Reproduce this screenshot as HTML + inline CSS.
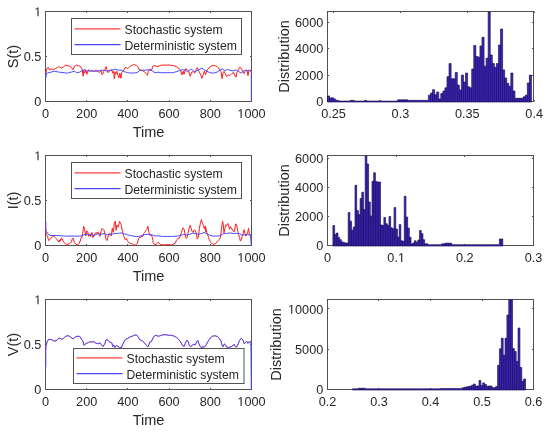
<!DOCTYPE html><html><head><meta charset="utf-8"><style>html,body{margin:0;padding:0;background:#fff;overflow:hidden}svg{display:block;will-change:transform}</style></head><body><svg width="550" height="434" viewBox="0 0 550 434" font-family='"Liberation Sans", sans-serif' fill="#262626"><rect width="550" height="434" fill="#fff"/><rect x="45.5" y="11.5" width="206.0" height="90.0" fill="none" stroke="#525252" stroke-width="1"/><path d="M45.5 101.5v-1.5M45.5 11.5v1.5M86.5 101.5v-1.5M86.5 11.5v1.5M127.5 101.5v-1.5M127.5 11.5v1.5M169.5 101.5v-1.5M169.5 11.5v1.5M210.5 101.5v-1.5M210.5 11.5v1.5M251.5 101.5v-1.5M251.5 11.5v1.5M45.5 101.5h1.5M251.5 101.5h-1.5M45.5 56.5h1.5M251.5 56.5h-1.5M45.5 11.5h1.5M251.5 11.5h-1.5" stroke="#525252" stroke-width="1" fill="none"/><text x="45.5" y="118.1" text-anchor="middle" font-size="12.7">0</text><text x="86.7" y="118.1" text-anchor="middle" font-size="12.7">200</text><text x="127.9" y="118.1" text-anchor="middle" font-size="12.7">400</text><text x="169.1" y="118.1" text-anchor="middle" font-size="12.7">600</text><text x="210.3" y="118.1" text-anchor="middle" font-size="12.7">800</text><text x="237.37" y="118.1" font-size="12.7"> 000</text><path d="M240.57 118.10 240.57 110.43 238.60 111.84 238.60 110.78 240.66 109.36 241.69 109.36 241.69 118.10Z"/><text x="41.3" y="106.2" text-anchor="end" font-size="12.7">0</text><text x="41.3" y="61.2" text-anchor="end" font-size="12.7">0.5</text><text x="34.24" y="16.2" font-size="12.7"> </text><path d="M37.43 16.20 37.43 8.53 35.46 9.94 35.46 8.88 37.52 7.46 38.55 7.46 38.55 16.20Z"/><path d="M45.7 73.2 47.1 68.1 48.6 67.6 49.6 70.2 51.1 68.7 53.2 69.7 55.2 68.7 57.2 67.6 59.3 66.6 61.3 68.1 63.3 67.1 65.4 65.1 67.4 65.6 69.5 66.1 71.5 67.6 73.0 69.7 74.5 66.1 76.6 65.1 78.6 65.6 80.7 66.6 82.2 69.2 83.2 76.3 83.7 70.2 84.7 73.2 85.8 69.7 86.8 74.3 87.8 71.2 88.8 69.7 90.8 71.2 92.4 70.2 93.9 71.7 95.9 70.2 98.0 71.7 99.5 72.2 101.1 70.7 102.1 74.8 103.1 73.2 104.1 70.7 105.1 69.2 106.1 66.6 107.2 70.2 108.2 72.7 109.2 71.2 110.7 70.2 111.7 69.7 112.8 73.2 113.8 71.2 114.3 78.8 115.1 72.2 115.8 74.3 116.8 71.2 117.9 75.3 118.9 77.8 119.9 73.2 120.9 78.3 121.9 72.2 123.0 70.7 124.0 70.2 125.0 68.1 126.0 67.1 127.5 68.7 128.5 67.6 130.6 66.1 132.6 65.1 134.7 64.6 136.7 65.6 138.2 67.1 139.2 69.7 140.8 70.2 142.8 70.7 144.8 72.2 146.4 73.7 147.4 75.3 148.4 71.2 149.9 69.2 151.5 70.2 153.0 66.1 155.1 65.6 157.1 66.6 159.1 66.1 161.2 65.1 165.2 65.1 170.3 65.1 173.4 65.6 176.4 66.6 178.5 68.1 180.5 70.2 182.0 74.8 183.1 71.2 184.1 74.3 185.6 68.7 187.1 69.7 188.7 71.2 190.2 76.3 191.7 72.2 193.2 71.7 194.8 73.2 196.3 69.2 197.3 67.6 198.3 70.2 199.4 72.2 200.9 75.3 201.9 78.3 202.9 75.3 204.4 71.2 205.5 74.8 207.0 70.2 208.1 69.3 210.1 66.7 212.2 65.7 215.3 65.7 217.4 66.7 219.5 69.3 221.0 71.4 222.1 78.7 223.1 72.4 224.2 71.4 225.2 73.5 226.7 76.6 228.3 75.0 229.9 75.6 231.9 73.5 233.5 72.4 235.0 76.1 236.1 77.1 237.1 71.9 238.2 70.4 239.7 67.3 241.3 68.3 242.8 71.4 243.9 73.5 244.9 71.4 245.9 69.9 247.0 70.4 248.0 75.6 249.0 70.4 250.1 69.9 250.8 71.4" fill="none" stroke="#ff1a1a" stroke-width="1.0" stroke-linejoin="round"/><path d="M45.7 78.5 46.5 73.2 49.0 72.7 54.2 71.2 59.3 72.2 64.4 72.7 67.4 73.2 71.5 72.0 74.5 71.2 76.6 72.7 79.6 72.2 82.7 70.2 84.7 69.7 86.8 71.2 89.8 71.0 94.9 71.2 100.0 70.7 101.1 70.2 104.1 70.2 107.2 71.2 110.2 70.2 113.3 69.7 115.3 69.2 118.4 70.2 121.4 70.2 124.5 71.7 127.5 72.7 130.6 73.0 134.7 73.0 137.7 72.2 139.8 70.2 142.8 70.2 145.9 70.2 148.9 69.7 152.0 70.7 154.0 72.2 155.1 72.7 158.1 72.2 161.2 72.7 167.3 72.7 172.4 72.7 176.4 71.7 179.5 70.7 182.5 69.7 185.6 70.2 187.6 71.7 190.7 69.2 192.7 70.2 194.8 71.7 196.8 70.7 198.8 69.7 201.9 68.1 203.9 69.7 206.0 70.7 208.1 71.9 211.2 73.0 214.3 73.0 217.4 71.9 220.5 69.9 222.6 68.8 224.7 70.9 227.3 69.3 229.9 70.4 233.0 70.9 236.1 69.9 238.2 71.4 241.3 73.0 244.4 70.4 247.5 70.9 249.6 70.4 250.6 71.4 251.3 72.0 251.3 101.3" fill="none" stroke="#4a4aff" stroke-width="1.0" stroke-linejoin="round"/><text x="148.5" y="136.5" text-anchor="middle" font-size="14.5">Time</text><text transform="translate(17.5,56.5) rotate(-90)" text-anchor="middle" font-size="14.5">S(t)</text><rect x="45.5" y="155.5" width="206.0" height="90.0" fill="none" stroke="#525252" stroke-width="1"/><path d="M45.5 245.5v-1.5M45.5 155.5v1.5M86.5 245.5v-1.5M86.5 155.5v1.5M127.5 245.5v-1.5M127.5 155.5v1.5M169.5 245.5v-1.5M169.5 155.5v1.5M210.5 245.5v-1.5M210.5 155.5v1.5M251.5 245.5v-1.5M251.5 155.5v1.5M45.5 245.5h1.5M251.5 245.5h-1.5M45.5 200.5h1.5M251.5 200.5h-1.5M45.5 155.5h1.5M251.5 155.5h-1.5" stroke="#525252" stroke-width="1" fill="none"/><text x="45.5" y="262.1" text-anchor="middle" font-size="12.7">0</text><text x="86.7" y="262.1" text-anchor="middle" font-size="12.7">200</text><text x="127.9" y="262.1" text-anchor="middle" font-size="12.7">400</text><text x="169.1" y="262.1" text-anchor="middle" font-size="12.7">600</text><text x="210.3" y="262.1" text-anchor="middle" font-size="12.7">800</text><text x="237.37" y="262.1" font-size="12.7"> 000</text><path d="M240.57 262.10 240.57 254.43 238.60 255.84 238.60 254.78 240.66 253.36 241.69 253.36 241.69 262.10Z"/><text x="41.3" y="250.2" text-anchor="end" font-size="12.7">0</text><text x="41.3" y="205.2" text-anchor="end" font-size="12.7">0.5</text><text x="34.24" y="160.2" font-size="12.7"> </text><path d="M37.43 160.20 37.43 152.53 35.46 153.94 35.46 152.88 37.52 151.46 38.55 151.46 38.55 160.20Z"/><path d="M45.7 222.1 45.7 231.0 46.4 234.6 47.5 236.1 48.6 240.5 49.7 239.8 50.8 238.3 52.3 236.9 53.8 236.1 55.3 237.6 56.7 239.1 57.9 240.9 59.3 242.0 60.8 239.8 61.9 238.3 58.3 241.5 59.3 241.0 60.3 240.0 61.3 238.5 62.3 239.0 63.3 241.5 64.4 243.1 65.9 244.1 67.9 244.4 69.5 243.6 71.0 242.5 72.0 239.5 72.8 238.0 73.7 240.0 74.5 242.5 76.1 244.4 77.6 244.6 79.1 243.6 80.2 241.0 81.2 238.0 82.2 236.9 82.7 233.4 83.2 229.8 83.7 226.3 84.7 229.8 85.8 235.9 86.8 230.8 87.8 232.4 88.8 236.4 89.8 233.9 90.8 236.4 91.9 232.4 92.9 237.5 93.9 235.9 94.9 233.9 95.9 232.4 97.0 233.4 98.0 231.9 98.0 232.9 99.0 233.4 100.0 236.4 101.1 231.3 102.1 228.3 103.1 229.3 104.1 230.3 105.1 234.4 106.1 239.5 107.2 240.5 108.2 235.9 109.2 233.4 110.2 233.9 111.2 235.9 112.3 228.3 113.3 232.4 114.3 223.2 115.3 221.2 116.1 230.3 116.8 225.2 117.9 227.3 118.9 224.2 119.6 221.2 120.4 223.2 121.4 225.2 122.4 231.3 123.5 235.4 124.5 238.0 125.5 240.0 126.5 238.5 127.5 240.5 128.5 242.5 129.6 243.1 131.6 243.6 133.6 244.8 135.7 245.1 137.2 243.6 138.7 238.5 139.8 236.9 140.8 237.5 141.8 235.9 142.8 236.4 143.8 233.4 144.8 232.4 145.9 230.3 146.9 229.3 147.9 226.3 148.9 232.4 149.9 235.4 151.0 234.9 152.0 236.4 153.0 240.5 153.0 242.5 154.0 244.1 156.1 244.6 158.1 242.3 159.1 243.1 160.1 244.4 162.2 244.8 165.2 244.8 168.3 244.6 171.3 245.1 173.4 244.1 175.4 243.1 176.4 240.0 178.0 238.5 179.5 238.0 180.5 235.4 181.5 232.4 182.5 228.8 183.1 227.8 184.1 229.3 185.1 234.4 186.1 238.5 187.1 237.5 188.2 232.4 189.2 228.3 190.2 225.2 191.2 228.3 192.2 231.9 193.2 232.4 194.3 229.8 195.3 230.8 196.3 233.4 197.3 239.0 198.3 237.5 199.4 228.3 200.4 223.2 201.4 219.6 202.4 223.2 203.4 225.2 204.4 228.8 205.5 226.3 206.5 232.4 204.9 226.5 205.8 231.5 206.7 232.5 207.6 234.3 208.5 237.5 209.5 240.2 210.8 242.5 212.2 243.8 214.0 244.3 215.8 243.4 217.6 241.1 219.5 239.3 220.4 237.5 221.3 230.2 222.2 223.8 222.6 221.1 223.3 224.7 224.0 232.9 224.9 228.4 225.8 224.7 226.7 225.6 227.8 223.4 228.5 225.2 229.5 229.3 230.4 226.5 231.3 227.9 232.6 230.2 234.0 232.0 234.9 228.4 235.8 223.8 236.7 225.6 237.6 230.2 238.5 234.3 239.5 237.5 240.4 241.1 241.3 239.3 242.2 236.5 243.1 233.8 244.0 229.7 244.9 232.9 245.8 236.1 246.7 234.7 247.6 232.9 248.5 228.4 249.5 234.7 250.4 236.1" fill="none" stroke="#ff1a1a" stroke-width="1.0" stroke-linejoin="round"/><path d="M45.7 221.4 45.7 228.7 46.4 231.7 47.9 233.9 50.1 235.4 53.1 235.5 56.7 235.4 64.4 236.1 74.5 236.1 79.6 236.1 81.7 235.9 83.7 234.9 85.8 234.2 88.8 234.4 91.9 234.9 93.9 235.6 95.9 234.6 98.0 233.9 101.1 234.2 104.1 233.6 107.2 234.9 110.2 234.4 113.3 233.9 116.3 233.4 119.4 233.2 121.4 232.9 124.5 233.9 127.5 234.9 130.6 235.6 133.6 236.1 136.7 236.6 138.7 236.4 141.8 235.6 144.8 234.6 147.9 234.2 151.0 234.6 155.1 235.9 158.1 235.9 162.2 236.4 167.3 236.4 172.4 236.4 177.5 236.2 180.5 235.2 183.6 234.4 186.6 234.9 189.7 234.4 192.7 233.2 195.8 233.6 198.8 234.2 201.9 233.4 203.9 232.4 206.0 233.4 206.7 233.8 209.5 235.2 213.1 236.1 217.6 236.1 220.4 235.5 223.1 233.8 226.7 233.4 229.5 232.9 233.1 233.4 236.7 233.4 239.5 233.8 242.2 235.2 244.9 234.7 247.6 234.7 250.4 234.5 251.3 245.3" fill="none" stroke="#4a4aff" stroke-width="1.0" stroke-linejoin="round"/><text x="148.5" y="280.5" text-anchor="middle" font-size="14.5">Time</text><text transform="translate(17.5,200.5) rotate(-90)" text-anchor="middle" font-size="14.5">I(t)</text><rect x="45.5" y="299.5" width="206.0" height="90.0" fill="none" stroke="#525252" stroke-width="1"/><path d="M45.5 389.5v-1.5M45.5 299.5v1.5M86.5 389.5v-1.5M86.5 299.5v1.5M127.5 389.5v-1.5M127.5 299.5v1.5M169.5 389.5v-1.5M169.5 299.5v1.5M210.5 389.5v-1.5M210.5 299.5v1.5M251.5 389.5v-1.5M251.5 299.5v1.5M45.5 389.5h1.5M251.5 389.5h-1.5M45.5 344.5h1.5M251.5 344.5h-1.5M45.5 299.5h1.5M251.5 299.5h-1.5" stroke="#525252" stroke-width="1" fill="none"/><text x="45.5" y="406.1" text-anchor="middle" font-size="12.7">0</text><text x="86.7" y="406.1" text-anchor="middle" font-size="12.7">200</text><text x="127.9" y="406.1" text-anchor="middle" font-size="12.7">400</text><text x="169.1" y="406.1" text-anchor="middle" font-size="12.7">600</text><text x="210.3" y="406.1" text-anchor="middle" font-size="12.7">800</text><text x="237.37" y="406.1" font-size="12.7"> 000</text><path d="M240.57 406.10 240.57 398.43 238.60 399.84 238.60 398.78 240.66 397.36 241.69 397.36 241.69 406.10Z"/><text x="41.3" y="394.2" text-anchor="end" font-size="12.7">0</text><text x="41.3" y="349.2" text-anchor="end" font-size="12.7">0.5</text><text x="34.24" y="304.2" font-size="12.7"> </text><path d="M37.43 304.20 37.43 296.53 35.46 297.94 35.46 296.88 37.52 295.46 38.55 295.46 38.55 304.20Z"/><path d="M45.7 367.2 45.7 351.6 45.9 345.9 47.3 341.6 48.7 339.4 51.3 339.6 53.4 340.8 55.0 341.2 57.0 340.1 59.1 338.1 61.2 339.1 62.7 339.1 64.3 337.6 66.4 336.1 68.5 335.9 70.5 337.1 73.1 339.1 75.2 337.1 77.3 336.4 79.9 336.6 81.4 339.1 83.0 341.2 84.0 345.4 85.0 344.4 86.6 343.4 88.2 342.8 90.2 341.8 91.8 342.2 93.9 341.8 95.9 343.4 98.0 343.9 98.0 343.9 100.1 342.9 101.6 345.1 103.1 346.6 104.7 343.9 106.2 339.9 107.2 339.4 108.7 341.4 110.3 342.4 111.8 342.9 112.8 346.6 113.8 345.1 114.8 347.6 116.4 345.6 117.9 346.6 119.4 347.6 121.5 347.6 122.5 345.1 124.0 341.9 125.5 339.4 127.1 338.9 128.6 337.9 130.6 336.9 132.7 336.1 134.7 335.1 136.7 335.4 138.3 336.9 139.3 339.4 140.8 340.2 142.8 341.4 144.9 343.4 146.9 346.1 147.9 347.1 149.0 344.4 150.0 341.9 151.5 341.4 153.1 337.9 154.6 335.9 156.1 335.4 157.6 336.1 159.7 336.1 161.2 335.4 163.2 334.9 166.3 334.9 168.3 335.4 171.4 335.4 174.4 336.4 176.5 337.4 178.5 339.4 180.5 341.9 182.6 345.6 184.1 346.6 185.1 343.9 186.7 340.4 188.2 341.4 189.2 345.1 190.7 347.1 192.3 345.1 193.8 344.4 195.3 345.1 196.8 341.4 197.9 340.4 198.9 343.9 200.4 347.1 201.9 348.1 202.0 347.1 204.6 347.1 206.1 345.1 208.1 341.4 210.2 338.4 212.2 336.4 214.8 335.9 217.3 336.6 219.3 338.4 220.9 340.9 221.9 345.1 222.9 347.1 224.4 343.9 225.5 345.1 226.5 347.1 228.5 347.6 230.5 347.1 232.6 346.1 234.1 344.4 235.1 346.6 236.7 347.1 238.2 343.9 239.7 340.4 241.2 338.4 242.8 339.9 244.3 343.9 245.8 341.9 246.8 341.4 247.9 343.4 248.9 341.9 249.9 342.4 250.9 341.4" fill="none" stroke="#ff1a1a" stroke-width="0.6" stroke-linejoin="round"/><path d="M45.7 367.1 45.7 351.4 45.9 345.7 47.3 341.4 48.7 339.3 51.3 339.5 53.4 340.6 55.0 341.1 57.0 340.0 59.1 338.0 61.2 339.0 62.7 339.0 64.3 337.4 66.4 335.9 68.5 335.7 70.5 336.9 73.1 339.0 75.2 336.9 77.3 336.2 79.9 336.4 81.4 339.0 83.0 341.1 84.0 345.2 85.0 344.2 86.6 343.2 88.2 342.6 90.2 341.6 91.8 342.1 93.9 341.6 95.9 343.2 98.0 343.7 98.0 343.8 100.1 342.8 101.6 344.9 103.1 346.4 104.7 343.8 106.2 339.8 107.2 339.3 108.7 341.3 110.3 342.3 111.8 342.8 112.8 346.4 113.8 344.9 114.8 347.4 116.4 345.4 117.9 346.4 119.4 347.4 121.5 347.4 122.5 344.9 124.0 341.8 125.5 339.3 127.1 338.7 128.6 337.7 130.6 336.7 132.7 336.0 134.7 335.0 136.7 335.2 138.3 336.7 139.3 339.3 140.8 340.1 142.8 341.3 144.9 343.3 146.9 345.9 147.9 346.9 149.0 344.3 150.0 341.8 151.5 341.3 153.1 337.7 154.6 335.7 156.1 335.2 157.6 336.0 159.7 336.0 161.2 335.2 163.2 334.7 166.3 334.7 168.3 335.2 171.4 335.2 174.4 336.2 176.5 337.2 178.5 339.3 180.5 341.8 182.6 345.4 184.1 346.4 185.1 343.8 186.7 340.3 188.2 341.3 189.2 344.9 190.7 346.9 192.3 344.9 193.8 344.3 195.3 344.9 196.8 341.3 197.9 340.3 198.9 343.8 200.4 346.9 201.9 347.9 202.0 346.9 204.6 346.9 206.1 344.9 208.1 341.3 210.2 338.2 212.2 336.2 214.8 335.7 217.3 336.4 219.3 338.2 220.9 340.8 221.9 344.9 222.9 346.9 224.4 343.8 225.5 344.9 226.5 346.9 228.5 347.4 230.5 346.9 232.6 345.9 234.1 344.3 235.1 346.4 236.7 346.9 238.2 343.8 239.7 340.3 241.2 338.2 242.8 339.8 244.3 343.8 245.8 341.8 246.8 341.3 247.9 343.3 248.9 341.8 249.9 342.3 250.9 341.3 251.3 389.3" fill="none" stroke="#4a4aff" stroke-width="1.0" stroke-linejoin="round"/><text x="148.5" y="424.5" text-anchor="middle" font-size="14.5">Time</text><text transform="translate(17.5,344.5) rotate(-90)" text-anchor="middle" font-size="14.5">V(t)</text><rect x="327.5" y="11.5" width="206.0" height="90.0" fill="none" stroke="#525252" stroke-width="1"/><path d="M333.5 101.5v-1.5M333.5 11.5v1.5M400.5 101.5v-1.5M400.5 11.5v1.5M467.5 101.5v-1.5M467.5 11.5v1.5M534.5 101.5v-1.5M534.5 11.5v1.5M327.5 101.5h1.5M533.5 101.5h-1.5M327.5 75.5h1.5M533.5 75.5h-1.5M327.5 48.5h1.5M533.5 48.5h-1.5M327.5 22.5h1.5M533.5 22.5h-1.5" stroke="#525252" stroke-width="1" fill="none"/><text x="333.52" y="118.1" text-anchor="middle" font-size="12.7">0.25</text><text x="400.4" y="118.1" text-anchor="middle" font-size="12.7">0.3</text><text x="467.29" y="118.1" text-anchor="middle" font-size="12.7">0.35</text><text x="534.17" y="118.1" text-anchor="middle" font-size="12.7">0.4</text><text x="323.3" y="106.2" text-anchor="end" font-size="12.7">0</text><text x="323.3" y="79.73" text-anchor="end" font-size="12.7">2000</text><text x="323.3" y="53.26" text-anchor="end" font-size="12.7">4000</text><text x="323.3" y="26.79" text-anchor="end" font-size="12.7">6000</text><path d="M327.50 102.00 327.50 96.00 329.56 96.00 329.56 98.00 331.62 98.00 331.62 97.80 333.68 97.80 333.68 99.00 335.74 99.00 335.74 100.35 337.80 100.35 337.80 100.85 339.86 100.85 339.86 101.05 341.92 101.05 341.92 101.05 343.98 101.05 343.98 101.05 346.04 101.05 346.04 101.05 348.10 101.05 348.10 101.05 350.16 101.05 350.16 100.35 352.22 100.35 352.22 100.35 354.28 100.35 354.28 101.05 356.34 101.05 356.34 101.05 358.40 101.05 358.40 101.05 360.46 101.05 360.46 101.05 362.52 101.05 362.52 101.05 364.58 101.05 364.58 100.35 366.64 100.35 366.64 101.05 368.70 101.05 368.70 101.05 370.76 101.05 370.76 101.05 372.82 101.05 372.82 101.05 374.88 101.05 374.88 101.05 376.94 101.05 376.94 101.05 379.00 101.05 379.00 100.65 381.06 100.65 381.06 101.15 383.12 101.15 383.12 101.15 385.18 101.15 385.18 101.15 387.24 101.15 387.24 101.15 389.30 101.15 389.30 101.15 391.36 101.15 391.36 101.15 393.42 101.15 393.42 101.15 395.48 101.15 395.48 101.15 397.54 101.15 397.54 99.85 399.60 99.85 399.60 99.85 401.66 99.85 401.66 99.85 403.72 99.85 403.72 99.85 405.78 99.85 405.78 99.85 407.84 99.85 407.84 100.35 409.90 100.35 409.90 100.35 411.96 100.35 411.96 100.35 414.02 100.35 414.02 100.35 416.08 100.35 416.08 100.35 418.14 100.35 418.14 100.35 420.20 100.35 420.20 100.35 422.26 100.35 422.26 100.35 424.32 100.35 424.32 100.35 426.38 100.35 426.38 100.35 428.44 100.35 428.44 95.20 430.50 95.20 430.50 93.10 432.56 93.10 432.56 89.70 434.62 89.70 434.62 94.70 436.68 94.70 436.68 92.00 438.74 92.00 438.74 98.90 440.80 98.90 440.80 93.60 442.86 93.60 442.86 91.00 444.92 91.00 444.92 87.80 446.98 87.80 446.98 76.70 449.04 76.70 449.04 63.60 451.10 63.60 451.10 78.80 453.16 78.80 453.16 78.80 455.22 78.80 455.22 72.40 457.28 72.40 457.28 85.10 459.34 85.10 459.34 89.90 461.40 89.90 461.40 75.10 463.46 75.10 463.46 82.00 465.52 82.00 465.52 73.00 467.58 73.00 467.58 86.70 469.64 86.70 469.64 87.80 471.70 87.80 471.70 69.00 473.76 69.00 473.76 45.50 475.82 45.50 475.82 56.50 477.88 56.50 477.88 57.20 479.94 57.20 479.94 46.00 482.00 46.00 482.00 37.30 484.06 37.30 484.06 66.20 486.12 66.20 486.12 58.20 488.18 58.20 488.18 11.90 490.24 11.90 490.24 55.00 492.30 55.00 492.30 63.50 494.36 63.50 494.36 67.20 496.42 67.20 496.42 63.50 498.48 63.50 498.48 45.00 500.54 45.00 500.54 29.00 502.60 29.00 502.60 69.90 504.66 69.90 504.66 78.00 506.72 78.00 506.72 83.30 508.78 83.30 508.78 86.30 510.84 86.30 510.84 73.00 512.90 73.00 512.90 91.00 514.96 91.00 514.96 98.30 517.02 98.30 517.02 98.30 519.08 98.30 519.08 98.30 521.14 98.30 521.14 98.30 523.20 98.30 523.20 96.80 525.26 96.80 525.26 95.20 527.32 95.20 527.32 83.00 529.38 83.00 529.38 75.10 531.44 75.10 531.44 102.00Z" fill="#3e26bc" stroke="#150b45" stroke-width="0.65" stroke-linejoin="miter"/><path d="M329.56 102.00V98.00M331.62 102.00V98.00M333.68 102.00V99.00M399.60 102.00V99.85M401.66 102.00V99.85M403.72 102.00V99.85M405.78 102.00V99.85M430.50 102.00V95.20M432.56 102.00V93.10M434.62 102.00V94.70M436.68 102.00V94.70M438.74 102.00V98.90M440.80 102.00V98.90M442.86 102.00V93.60M444.92 102.00V91.00M446.98 102.00V87.80M449.04 102.00V76.70M451.10 102.00V78.80M453.16 102.00V78.80M455.22 102.00V78.80M457.28 102.00V85.10M459.34 102.00V89.90M461.40 102.00V89.90M463.46 102.00V82.00M465.52 102.00V82.00M467.58 102.00V86.70M469.64 102.00V87.80M471.70 102.00V87.80M473.76 102.00V69.00M475.82 102.00V56.50M477.88 102.00V57.20M479.94 102.00V57.20M482.00 102.00V46.00M484.06 102.00V66.20M486.12 102.00V66.20M488.18 102.00V58.20M490.24 102.00V55.00M492.30 102.00V63.50M494.36 102.00V67.20M496.42 102.00V67.20M498.48 102.00V63.50M500.54 102.00V45.00M502.60 102.00V69.90M504.66 102.00V78.00M506.72 102.00V83.30M508.78 102.00V86.30M510.84 102.00V86.30M512.90 102.00V91.00M514.96 102.00V98.30M517.02 102.00V98.30M519.08 102.00V98.30M521.14 102.00V98.30M523.20 102.00V98.30M525.26 102.00V96.80M527.32 102.00V95.20M529.38 102.00V83.00" stroke="#150b45" stroke-width="0.65" fill="none"/><text transform="translate(289.2,56.5) rotate(-90)" text-anchor="middle" font-size="14.5">Distribution</text><rect x="327.5" y="155.5" width="206.0" height="90.0" fill="none" stroke="#525252" stroke-width="1"/><path d="M327.5 245.5v-1.5M327.5 155.5v1.5M396.5 245.5v-1.5M396.5 155.5v1.5M464.5 245.5v-1.5M464.5 155.5v1.5M533.5 245.5v-1.5M533.5 155.5v1.5M327.5 245.5h1.5M533.5 245.5h-1.5M327.5 216.5h1.5M533.5 216.5h-1.5M327.5 187.5h1.5M533.5 187.5h-1.5M327.5 158.5h1.5M533.5 158.5h-1.5" stroke="#525252" stroke-width="1" fill="none"/><text x="327.5" y="262.1" text-anchor="middle" font-size="12.7">0</text><text x="387.34" y="262.1" font-size="12.7">0. </text><path d="M401.12 262.10 401.12 254.43 399.15 255.84 399.15 254.78 401.22 253.36 402.25 253.36 402.25 262.10Z"/><text x="464.83" y="262.1" text-anchor="middle" font-size="12.7">0.2</text><text x="533.5" y="262.1" text-anchor="middle" font-size="12.7">0.3</text><text x="323.3" y="250.2" text-anchor="end" font-size="12.7">0</text><text x="323.3" y="221.07" text-anchor="end" font-size="12.7">2000</text><text x="323.3" y="191.95" text-anchor="end" font-size="12.7">4000</text><text x="323.3" y="162.82" text-anchor="end" font-size="12.7">6000</text><path d="M332.90 246.00 332.90 225.50 334.60 225.50 334.60 234.50 336.30 234.50 336.30 233.00 338.00 233.00 338.00 237.50 339.70 237.50 339.70 239.70 341.39 239.70 341.39 241.90 343.09 241.90 343.09 242.40 344.79 242.40 344.79 243.00 346.49 243.00 346.49 243.00 348.19 243.00 348.19 212.50 349.89 212.50 349.89 221.20 351.59 221.20 351.59 230.20 353.29 230.20 353.29 227.00 354.99 227.00 354.99 185.30 356.69 185.30 356.69 210.50 358.38 210.50 358.38 214.50 360.08 214.50 360.08 198.50 361.78 198.50 361.78 192.20 363.48 192.20 363.48 209.50 365.18 209.50 365.18 155.90 366.88 155.90 366.88 164.00 368.58 164.00 368.58 202.00 370.28 202.00 370.28 216.00 371.98 216.00 371.98 181.30 373.68 181.30 373.68 172.70 375.38 172.70 375.38 181.50 377.07 181.50 377.07 182.00 378.77 182.00 378.77 182.00 380.47 182.00 380.47 224.90 382.17 224.90 382.17 225.50 383.87 225.50 383.87 217.50 385.57 217.50 385.57 223.80 387.27 223.80 387.27 225.50 388.97 225.50 388.97 216.50 390.67 216.50 390.67 227.80 392.36 227.80 392.36 228.80 394.06 228.80 394.06 207.60 395.76 207.60 395.76 229.10 397.46 229.10 397.46 237.10 399.16 237.10 399.16 224.60 400.86 224.60 400.86 240.80 402.56 240.80 402.56 241.30 404.26 241.30 404.26 196.20 405.96 196.20 405.96 217.00 407.66 217.00 407.66 228.10 409.35 228.10 409.35 237.30 411.05 237.30 411.05 244.05 412.75 244.05 412.75 242.90 414.45 242.90 414.45 240.80 416.15 240.80 416.15 242.40 417.85 242.40 417.85 240.00 419.55 240.00 419.55 230.50 421.25 230.50 421.25 233.70 422.95 233.70 422.95 239.70 424.65 239.70 424.65 243.85 426.34 243.85 426.34 243.85 428.04 243.85 428.04 244.65 429.74 244.65 429.74 244.65 431.44 244.65 431.44 244.65 433.14 244.65 433.14 244.65 434.84 244.65 434.84 244.65 436.54 244.65 436.54 244.65 438.24 244.65 438.24 244.65 439.94 244.65 439.94 244.65 441.64 244.65 441.64 243.85 443.33 243.85 443.33 243.85 445.03 243.85 445.03 243.20 446.73 243.20 446.73 243.20 448.43 243.20 448.43 243.20 450.13 243.20 450.13 243.20 451.83 243.20 451.83 244.65 453.53 244.65 453.53 244.65 455.23 244.65 455.23 244.65 456.93 244.65 456.93 244.65 458.63 244.65 458.63 244.65 460.32 244.65 460.32 244.65 462.02 244.65 462.02 244.65 463.72 244.65 463.72 244.65 465.42 244.65 465.42 244.65 467.12 244.65 467.12 244.65 468.82 244.65 468.82 244.65 470.52 244.65 470.52 244.65 472.22 244.65 472.22 244.65 473.92 244.65 473.92 244.65 475.62 244.65 475.62 244.65 477.31 244.65 477.31 244.65 479.01 244.65 479.01 244.65 480.71 244.65 480.71 244.65 482.41 244.65 482.41 244.65 484.11 244.65 484.11 244.65 485.81 244.65 485.81 244.65 487.51 244.65 487.51 244.65 489.21 244.65 489.21 244.65 490.91 244.65 490.91 244.65 492.61 244.65 492.61 244.65 494.30 244.65 494.30 244.65 496.00 244.65 496.00 244.65 497.70 244.65 497.70 244.65 499.40 244.65 499.40 239.00 501.10 239.00 501.10 239.00 502.80 239.00 502.80 246.00Z" fill="#3e26bc" stroke="#150b45" stroke-width="0.65" stroke-linejoin="miter"/><path d="M334.60 246.00V234.50M336.30 246.00V234.50M338.00 246.00V237.50M339.70 246.00V239.70M341.39 246.00V241.90M343.09 246.00V242.40M344.79 246.00V243.00M346.49 246.00V243.00M348.19 246.00V243.00M349.89 246.00V221.20M351.59 246.00V230.20M353.29 246.00V230.20M354.99 246.00V227.00M356.69 246.00V210.50M358.38 246.00V214.50M360.08 246.00V214.50M361.78 246.00V198.50M363.48 246.00V209.50M365.18 246.00V209.50M366.88 246.00V164.00M368.58 246.00V202.00M370.28 246.00V216.00M371.98 246.00V216.00M373.68 246.00V181.30M375.38 246.00V181.50M377.07 246.00V182.00M378.77 246.00V182.00M380.47 246.00V224.90M382.17 246.00V225.50M383.87 246.00V225.50M385.57 246.00V223.80M387.27 246.00V225.50M388.97 246.00V225.50M390.67 246.00V227.80M392.36 246.00V228.80M394.06 246.00V228.80M395.76 246.00V229.10M397.46 246.00V237.10M399.16 246.00V237.10M400.86 246.00V240.80M402.56 246.00V241.30M404.26 246.00V241.30M405.96 246.00V217.00M407.66 246.00V228.10M409.35 246.00V237.30M411.05 246.00V244.05M412.75 246.00V244.05M414.45 246.00V242.90M416.15 246.00V242.40M417.85 246.00V242.40M419.55 246.00V240.00M421.25 246.00V233.70M422.95 246.00V239.70M424.65 246.00V243.85M426.34 246.00V243.85M443.33 246.00V243.85M445.03 246.00V243.85M446.73 246.00V243.20M448.43 246.00V243.20M450.13 246.00V243.20M501.10 246.00V239.00" stroke="#150b45" stroke-width="0.65" fill="none"/><text transform="translate(289.2,200.5) rotate(-90)" text-anchor="middle" font-size="14.5">Distribution</text><rect x="327.5" y="299.5" width="206.0" height="90.0" fill="none" stroke="#525252" stroke-width="1"/><path d="M327.5 389.5v-1.5M327.5 299.5v1.5M378.5 389.5v-1.5M378.5 299.5v1.5M430.5 389.5v-1.5M430.5 299.5v1.5M482.5 389.5v-1.5M482.5 299.5v1.5M533.5 389.5v-1.5M533.5 299.5v1.5M327.5 389.5h1.5M533.5 389.5h-1.5M327.5 349.5h1.5M533.5 349.5h-1.5M327.5 308.5h1.5M533.5 308.5h-1.5" stroke="#525252" stroke-width="1" fill="none"/><text x="327.5" y="406.1" text-anchor="middle" font-size="12.7">0.2</text><text x="379" y="406.1" text-anchor="middle" font-size="12.7">0.3</text><text x="430.5" y="406.1" text-anchor="middle" font-size="12.7">0.4</text><text x="482" y="406.1" text-anchor="middle" font-size="12.7">0.5</text><text x="533.5" y="406.1" text-anchor="middle" font-size="12.7">0.6</text><text x="323.3" y="394.2" text-anchor="end" font-size="12.7">0</text><text x="323.3" y="353.91" text-anchor="end" font-size="12.7">5000</text><text x="287.98" y="313.63" font-size="12.7"> 0000</text><path d="M291.18 313.63 291.18 305.96 289.21 307.36 289.21 306.31 291.27 304.89 292.30 304.89 292.30 313.63Z"/><path d="M352.52 390.00 352.52 388.85 354.38 388.85 354.38 388.85 356.24 388.85 356.24 388.85 358.10 388.85 358.10 388.25 359.96 388.25 359.96 388.25 361.82 388.25 361.82 388.25 363.68 388.25 363.68 388.25 365.54 388.25 365.54 388.85 367.40 388.85 367.40 388.85 369.26 388.85 369.26 388.85 371.12 388.85 371.12 388.85 372.98 388.85 372.98 388.85 374.84 388.85 374.84 388.85 376.70 388.85 376.70 388.85 378.56 388.85 378.56 388.85 380.42 388.85 380.42 388.85 382.28 388.85 382.28 388.85 384.14 388.85 384.14 388.85 386.00 388.85 386.00 388.85 387.86 388.85 387.86 388.85 389.72 388.85 389.72 388.85 391.58 388.85 391.58 388.85 393.44 388.85 393.44 388.85 395.30 388.85 395.30 388.85 397.16 388.85 397.16 388.85 399.02 388.85 399.02 388.85 400.88 388.85 400.88 388.85 402.74 388.85 402.74 388.85 404.60 388.85 404.60 388.85 406.46 388.85 406.46 388.85 408.32 388.85 408.32 388.85 410.18 388.85 410.18 388.85 412.04 388.85 412.04 388.85 413.90 388.85 413.90 388.85 415.76 388.85 415.76 388.85 417.62 388.85 417.62 388.85 419.48 388.85 419.48 388.85 421.34 388.85 421.34 388.85 423.20 388.85 423.20 388.85 425.06 388.85 425.06 388.85 426.92 388.85 426.92 388.85 428.78 388.85 428.78 388.85 430.64 388.85 430.64 388.85 432.50 388.85 432.50 388.85 434.36 388.85 434.36 388.85 436.22 388.85 436.22 388.85 438.08 388.85 438.08 388.85 439.94 388.85 439.94 388.45 441.80 388.45 441.80 388.45 443.66 388.45 443.66 388.45 445.52 388.45 445.52 388.45 447.38 388.45 447.38 388.45 449.24 388.45 449.24 388.45 451.10 388.45 451.10 388.45 452.96 388.45 452.96 388.45 454.82 388.45 454.82 388.45 456.68 388.45 456.68 388.45 458.54 388.45 458.54 388.45 460.40 388.45 460.40 388.45 462.26 388.45 462.26 387.85 464.12 387.85 464.12 387.20 465.98 387.20 465.98 386.90 467.84 386.90 467.84 386.50 469.70 386.50 469.70 386.20 471.56 386.20 471.56 385.30 473.42 385.30 473.42 384.00 475.28 384.00 475.28 386.00 477.14 386.00 477.14 386.00 479.00 386.00 479.00 380.50 480.86 380.50 480.86 385.50 482.72 385.50 482.72 382.90 484.58 382.90 484.58 384.50 486.44 384.50 486.44 386.20 488.30 386.20 488.30 386.00 490.16 386.00 490.16 386.00 492.02 386.00 492.02 387.65 493.88 387.65 493.88 387.65 495.74 387.65 495.74 386.50 497.60 386.50 497.60 365.30 499.46 365.30 499.46 348.80 501.32 348.80 501.32 338.20 503.18 338.20 503.18 355.20 505.04 355.20 505.04 338.20 506.90 338.20 506.90 315.10 508.76 315.10 508.76 299.90 510.62 299.90 510.62 299.90 512.48 299.90 512.48 348.50 514.34 348.50 514.34 351.50 516.20 351.50 516.20 361.50 518.06 361.50 518.06 328.00 519.92 328.00 519.92 367.50 521.78 367.50 521.78 381.20 523.64 381.20 523.64 379.00 525.50 379.00 525.50 390.00Z" fill="#3e26bc" stroke="#150b45" stroke-width="0.65" stroke-linejoin="miter"/><path d="M359.96 390.00V388.25M361.82 390.00V388.25M363.68 390.00V388.25M464.12 390.00V387.85M465.98 390.00V387.20M467.84 390.00V386.90M469.70 390.00V386.50M471.56 390.00V386.20M473.42 390.00V385.30M475.28 390.00V386.00M477.14 390.00V386.00M479.00 390.00V386.00M480.86 390.00V385.50M482.72 390.00V385.50M484.58 390.00V384.50M486.44 390.00V386.20M488.30 390.00V386.20M490.16 390.00V386.00M492.02 390.00V387.65M493.88 390.00V387.65M495.74 390.00V387.65M497.60 390.00V386.50M499.46 390.00V365.30M501.32 390.00V348.80M503.18 390.00V355.20M505.04 390.00V355.20M506.90 390.00V338.20M508.76 390.00V315.10M510.62 390.00V299.90M512.48 390.00V348.50M514.34 390.00V351.50M516.20 390.00V361.50M518.06 390.00V361.50M519.92 390.00V367.50M521.78 390.00V381.20M523.64 390.00V381.20" stroke="#150b45" stroke-width="0.65" fill="none"/><text transform="translate(281,344.5) rotate(-90)" text-anchor="middle" font-size="14.5">Distribution</text><rect x="71.5" y="18.5" width="170" height="36" fill="#fff" stroke="#525252" stroke-width="1"/><path d="M74.5 28.9h46" stroke="#ff4040" stroke-width="1.2"/><path d="M74.5 44.7h46" stroke="#4848ff" stroke-width="1.2"/><text x="124.5" y="33.5" font-size="12.2">Stochastic system</text><text x="124.5" y="49.5" font-size="12.2">Deterministic system</text><rect x="71.5" y="162.5" width="170" height="36" fill="#fff" stroke="#525252" stroke-width="1"/><path d="M74.5 172.9h46" stroke="#ff4040" stroke-width="1.2"/><path d="M74.5 188.7h46" stroke="#4848ff" stroke-width="1.2"/><text x="124.5" y="177.5" font-size="12.2">Stochastic system</text><text x="124.5" y="193.5" font-size="12.2">Deterministic system</text><rect x="73.5" y="348.5" width="170.5" height="35" fill="#fff" stroke="#525252" stroke-width="1"/><path d="M76.5 357.9h46" stroke="#ff4040" stroke-width="1.2"/><path d="M76.5 373.7h46" stroke="#4848ff" stroke-width="1.2"/><text x="126.5" y="362.5" font-size="12.2">Stochastic system</text><text x="126.5" y="378.5" font-size="12.2">Deterministic system</text></svg></body></html>
